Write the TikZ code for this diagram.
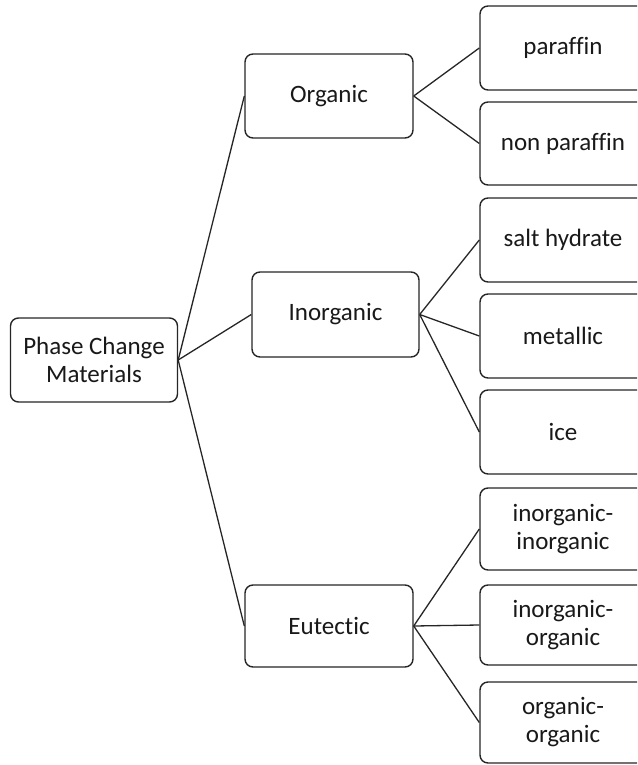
\documentclass[tikz,border=0pt]{standalone}
\usepackage{fontspec}
\setmainfont{Carlito}[Ligatures=NoCommon]
\tikzset{
  box/.style={draw=black!85, line width=1.4pt, rounded corners=8pt, fill=white, align=center, font=\fontsize{25}{28}\selectfont, inner sep=0pt, text=black!90},
  conn/.style={draw=black!85, line width=1.3pt},
}
\begin{document}
\begin{tikzpicture}[x=1pt,y=-1pt]
\useasboundingbox (0,0) rectangle (637,765);
\clip (0,0) rectangle (637,765);
\node[box, minimum width=167pt, minimum height=84pt] (root) at (94,360) {Phase Change\\Materials};
\node[box, minimum width=168pt, minimum height=84pt] (org) at (329,96) {Organic};
\node[box, minimum width=167pt, minimum height=85pt] (inorg) at (335.5,314.5) {Inorganic};
\node[box, minimum width=168pt, minimum height=82pt] (eut) at (329,626) {Eutectic};
\node[box, minimum width=166pt, minimum height=84pt] (p1) at (563,48) {paraffin};
\node[box, minimum width=166pt, minimum height=83pt] (p2) at (563,143.5) {non paraffin};
\node[box, minimum width=166pt, minimum height=84pt] (i1) at (563,240) {salt hydrate};
\node[box, minimum width=166pt, minimum height=84pt] (i2) at (563,336) {metallic};
\node[box, minimum width=166pt, minimum height=84pt] (i3) at (563,432) {ice};
\node[box, minimum width=166pt, minimum height=82pt] (e1) at (563,529) {inorganic-\\inorganic};
\node[box, minimum width=166pt, minimum height=80pt] (e2) at (563,625) {inorganic-\\organic};
\node[box, minimum width=166pt, minimum height=81pt] (e3) at (563,722.5) {organic-\\organic};
\draw[conn] (root.east) -- (org.west);
\draw[conn] (root.east) -- (inorg.west);
\draw[conn] (root.east) -- (eut.west);
\draw[conn] (org.east) -- (p1.west);
\draw[conn] (org.east) -- (p2.west);
\draw[conn] (inorg.east) -- (i1.west);
\draw[conn] (inorg.east) -- (i2.west);
\draw[conn] (inorg.east) -- (i3.west);
\draw[conn] (eut.east) -- (e1.west);
\draw[conn] (eut.east) -- (e2.west);
\draw[conn] (eut.east) -- (e3.west);
\end{tikzpicture}
\end{document}
